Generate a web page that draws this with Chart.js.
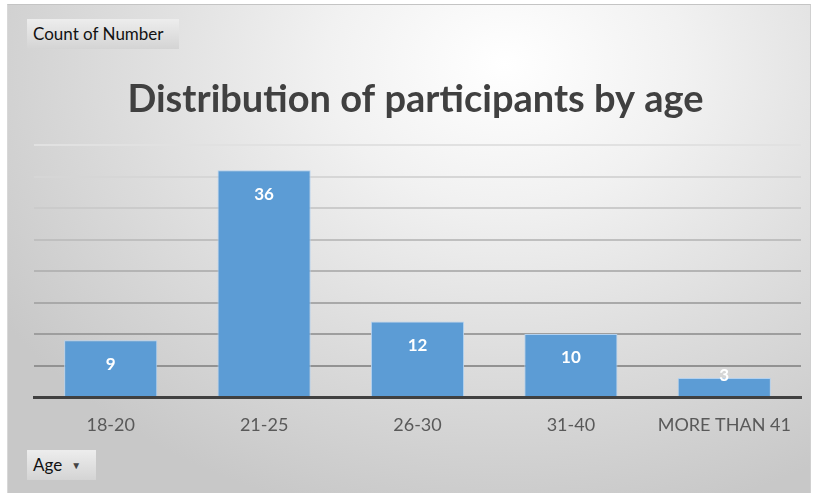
<!DOCTYPE html>
<html>
<head>
<meta charset="utf-8">
<script src="https://cdn.jsdelivr.net/npm/chart.js@4"></script>
<style>
  html, body { margin: 0; padding: 0; background: #ffffff; }
  body { width: 814px; height: 493px; position: relative; overflow: hidden; font-family: Lato, "Open Sans", sans-serif; }
  #frame {
    position: absolute; left: 7px; top: 4px; width: 802px; height: 492px;
    border-top: 1px solid #c4c4c4; border-left: 1px solid #d8d8d8; border-right: 1px solid #d0d0d0;
    background: radial-gradient(ellipse 75% 95% at 62% 12%, #ffffff 0%, #f1f1f1 30%, #dcdcdc 65%, #c8c8c8 100%);
  }
  canvas { position: absolute; left: 0; top: 0; }
  .btn {
    position: absolute; box-sizing: border-box; color: #111;
    background: linear-gradient(#ededed, #d4d4d4);
    font-family: Lato, sans-serif; font-size: 17px; line-height: 30px; padding-left: 6px;
  }
  #countBtn { left: 27px; top: 19px; width: 152px; height: 30px; }
  #ageBtn { left: 27px; top: 450px; width: 69px; height: 30px; }
  #ageBtn span { font-size: 10px; color: #444; margin-left: 9px; position: relative; top: -2px; }
</style>
</head>
<body>
<div id="frame"></div>
<canvas id="c" width="814" height="493"></canvas>
<div class="btn" id="countBtn">Count of Number</div>
<div class="btn" id="ageBtn">Age<span>&#9660;</span></div>
<script>
const categories = ["18-20", "21-25", "26-30", "31-40", "MORE THAN 41"];
const counts = [9, 36, 12, 10, 3];
const titleText = "Distribution of participants by age";
const yMax = 40;
const yStep = 5;

const dataLabels = {
  id: 'dataLabels',
  afterDatasetsDraw(chart) {
    const ctx = chart.ctx;
    const meta = chart.getDatasetMeta(0);
    ctx.save();
    ctx.fillStyle = '#ffffff';
    ctx.font = 'bold 17px Lato, sans-serif';
    ctx.textAlign = 'center';
    ctx.textBaseline = 'middle';
    meta.data.forEach((bar, i) => {
      const y = Math.min(bar.y + 24, bar.base - 20);
      ctx.fillText(String(counts[i]), bar.x, y);
    });
    ctx.restore();
  }
};

function gridColor(ctx) {
  const v = ctx.tick ? ctx.tick.value : 0;
  const t = v / yMax; // 0 bottom .. 1 top
  const c = Math.round(135 + t * 90);
  return `rgb(${c},${c},${c})`;
}

new Chart(document.getElementById('c'), {
  type: 'bar',
  data: {
    labels: categories,
    datasets: [{
      data: counts,
      backgroundColor: '#5c9cd5',
      borderColor: '#b3d1ef',
      borderWidth: 1,
      borderSkipped: 'bottom',
      barPercentage: 0.607,
      categoryPercentage: 1.0
    }]
  },
  options: {
    responsive: false,
    animation: false,
    layout: { padding: { top: 0, left: 30, right: 13, bottom: 0 } },
    plugins: {
      legend: { display: false },
      tooltip: { enabled: false },
      title: {
        display: true,
        text: titleText,
        color: '#404040',
        font: { family: 'Lato', size: 38, weight: 'bold', lineHeight: 1.2 },
        padding: { top: 77, bottom: 22.4 }
      }
    },
    scales: {
      x: {
        grid: { display: false, drawTicks: false },
        border: { display: true, color: '#404040', width: 3 },
        ticks: { color: '#595959', font: { family: 'Lato', size: 18 }, padding: 17 },
        afterFit(s) { s.height = 96; }
      },
      y: {
        min: 0, max: yMax,
        ticks: { display: false, stepSize: yStep },
        grid: { color: gridColor, lineWidth: 2, drawTicks: false },
        border: { display: false },
        afterFit(s) { s.width = 4; }
      }
    }
  },
  plugins: [dataLabels]
});
</script>
</body>
</html>
